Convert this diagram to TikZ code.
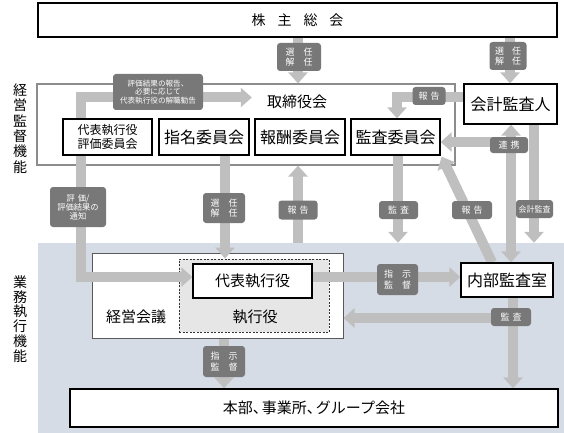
\documentclass[tikz,border=0pt]{standalone}
\usepackage{fontspec}
\newfontfamily\jp{Noto Sans CJK JP}
\usetikzlibrary{arrows.meta}
\definecolor{bandc}{HTML}{BFBFBF}
\definecolor{labc}{HTML}{787878}
\definecolor{bluec}{HTML}{D6DCE5}
\definecolor{execc}{HTML}{E6E6E6}
\definecolor{framec}{HTML}{8C8C8C}
\newcommand\jpfs[2]{\jp\fontsize{#1}{#2}\selectfont}
\pgfdeclarelayer{bglayer}
\pgfdeclarelayer{bandlayer}
\pgfsetlayers{bglayer,bandlayer,main}
\tikzset{
  box/.style={draw=black, line width=1.3pt, fill=white, inner sep=0pt, align=center},
  plain/.style={inner sep=0pt, align=center},
  lab/.style={fill=labc, rounded corners=3pt, text=white, inner sep=0pt, align=center, font=\jpfs{9}{10.5}},
  band/.style={draw=bandc, line width=10pt, -{Triangle[width=19pt,length=11pt]}},
  dband/.style={draw=bandc, line width=10pt, {Triangle[width=19pt,length=11pt]}-{Triangle[width=19pt,length=11pt]}},
}
\begin{document}
\begin{tikzpicture}[x=1pt,y=-1pt]
\useasboundingbox (0,0) rectangle (564,433);
\begin{pgfonlayer}{bglayer}
  \node[fill=bluec, inner sep=0pt, minimum width=526pt, minimum height=190pt] (exe) at (301,338) {};
  \node[draw=framec, line width=1.2pt, inner sep=0pt, minimum width=418pt, minimum height=81pt] (board) at (246,124.5) {};
  \node[draw=black!65, line width=1pt, fill=white, inner sep=0pt, minimum width=251pt, minimum height=85pt] (mgmt) at (217.5,295.5) {};
  \node[draw=black!80, line width=0.9pt, dash pattern=on 2pt off 1.5pt, fill=execc, inner sep=0pt, minimum width=150pt, minimum height=73pt] (exec) at (254,295.5) {};
\end{pgfonlayer}

% boxes
\node[box, minimum width=519pt, minimum height=34pt, font=\jpfs{14}{16}] (sh) at (297.5,20) {株\hspace{12pt}主\hspace{12pt}総\hspace{12pt}会};
\node[plain, font=\jpfs{15}{17}] (bt) at (297,102) {取締役会};
\node[box, minimum width=89pt, minimum height=36pt, font=\jpfs{12}{14.5}] (c1) at (107.5,137) {代表執行役\\評価委員会};
\node[box, minimum width=90pt, minimum height=36pt, font=\jpfs{16}{18}] (c2) at (204,137) {指名委員会};
\node[box, minimum width=90pt, minimum height=36pt, font=\jpfs{16}{18}] (c3) at (300,137) {報酬委員会};
\node[box, minimum width=89pt, minimum height=36pt, font=\jpfs{16}{18}] (c4) at (395.5,137) {監査委員会};
\node[box, minimum width=93pt, minimum height=40pt, font=\jpfs{16}{18}] (audit) at (510.5,104) {会計監査人};
\node[box, minimum width=92pt, minimum height=34pt, font=\jpfs{16}{18}] (internal) at (507,280) {内部監査室};
\node[box, minimum width=119pt, minimum height=34pt, font=\jpfs{15}{17}] (ceo) at (252.5,281) {代表執行役};
\node[plain, font=\jpfs{15}{17}] (mgtxt) at (136,317) {経営会議};
\node[plain, font=\jpfs{15}{17}] (extxt) at (255,317) {執行役};
\node[box, minimum width=488pt, minimum height=38pt, font=\jpfs{15}{17}] (hq) at (314,408) {本部、\hspace{-6pt}事業所、\hspace{-6pt}グループ会社};
\node[plain, font=\jpfs{14}{15.4}] (side1) at (20,128.5) {経\\営\\監\\督\\機\\能};
\node[plain, font=\jpfs{14}{14.8}] (side2) at (20,319) {業\\務\\執\\行\\機\\能};

\coordinate (lk) at (511,142);
\coordinate (ia) at (513,318);

\begin{pgfonlayer}{bandlayer}
  \draw[band] (298,0 |- sh.south) -- (298,0 |- board.north);
  \draw[band] (510,0 |- sh.south) -- (510,0 |- audit.north);
  \draw[band, shorten >=15pt] (81,0 |- c1.north) -- (81,97.5) -- (bt.west |- 0,97.5);
  \draw[band] (81,0 |- c1.south) -- (81,277) -- (ceo.west |- 0,277);
  \draw[band] (225,0 |- c2.south) -- (225,0 |- exec.north);
  \draw[band, shorten <=10pt] (298,0 |- mgmt.north) -- (298,0 |- board.south);
  \draw[band] (398,0 |- c4.south) -- (398,0 |- exe.north);
  \draw[band] ([xshift=-15pt]internal.north) -- ([xshift=1pt,yshift=-1pt]c4.south east);
  \draw[dband] (511,0 |- audit.south) -- (511,0 |- internal.north);
  \draw[band] (lk) -- (c4.east |- lk);
  \draw[band] (534,0 |- audit.south) -- (534,0 |- exe.north);
  \draw[band] (audit.west |- 0,97) -- (397,97) -- (397,0 |- c4.north);
  \draw[band] (ceo.east |- 0,277) -- (internal.west |- 0,277);
  \draw[band] (513,0 |- internal.south) -- (513,0 |- hq.north);
  \draw[band] (ia) -- (mgmt.east |- ia);
  \draw[band] (224,0 |- mgmt.south) -- (224,0 |- hq.north);
\end{pgfonlayer}

% labels
\node[lab, minimum width=44pt, minimum height=28pt] (l1) at (299,57) {選\hspace{9pt}任\\解\hspace{9pt}任};
\node[lab, minimum width=37pt, minimum height=28pt] (l2) at (508,56) {選\hspace{8pt}任\\解\hspace{8pt}任};
\node[lab, minimum width=90pt, minimum height=36pt, font=\jpfs{7.6}{8.3}] (l3) at (158,92) {評価結果の報告、\\必要に応じて\\代表執行役の解職勧告};
\node[lab, minimum width=56pt, minimum height=40pt, font=\jpfs{8.3}{8.9}] (l4) at (78,207) {評\hspace{3pt}価/\\評価結果の\\通知};
\node[lab, minimum width=42pt, minimum height=30pt] (l5) at (224,208) {選\hspace{9pt}任\\解\hspace{9pt}任};
\node[lab, minimum width=39pt, minimum height=19pt] (l6) at (298,210) {報\hspace{3pt}告};
\node[lab, minimum width=39pt, minimum height=18pt] (l7) at (398.5,210) {監\hspace{3pt}査};
\node[lab, minimum width=40pt, minimum height=18pt] (l8) at (472,210) {報\hspace{3pt}告};
\node[lab, minimum width=38pt, minimum height=16pt] (l9) at (509,145) {連\hspace{3pt}携};
\node[lab, minimum width=37pt, minimum height=18pt, font=\jpfs{8}{9}] (l11) at (534.5,209) {会計監査};
\node[lab, minimum width=33pt, minimum height=18pt] (l12) at (429,96) {報\hspace{3pt}告};
\node[lab, minimum width=41pt, minimum height=31pt] (l13) at (397.5,279.5) {指\hspace{9pt}示\\監\hspace{9pt}督};
\node[lab, minimum width=40pt, minimum height=18pt] (l15) at (511,317) {監\hspace{3pt}査};
\node[lab, minimum width=42pt, minimum height=31pt] (l16) at (224,361.5) {指\hspace{9pt}示\\監\hspace{9pt}督};
\end{tikzpicture}
\end{document}
